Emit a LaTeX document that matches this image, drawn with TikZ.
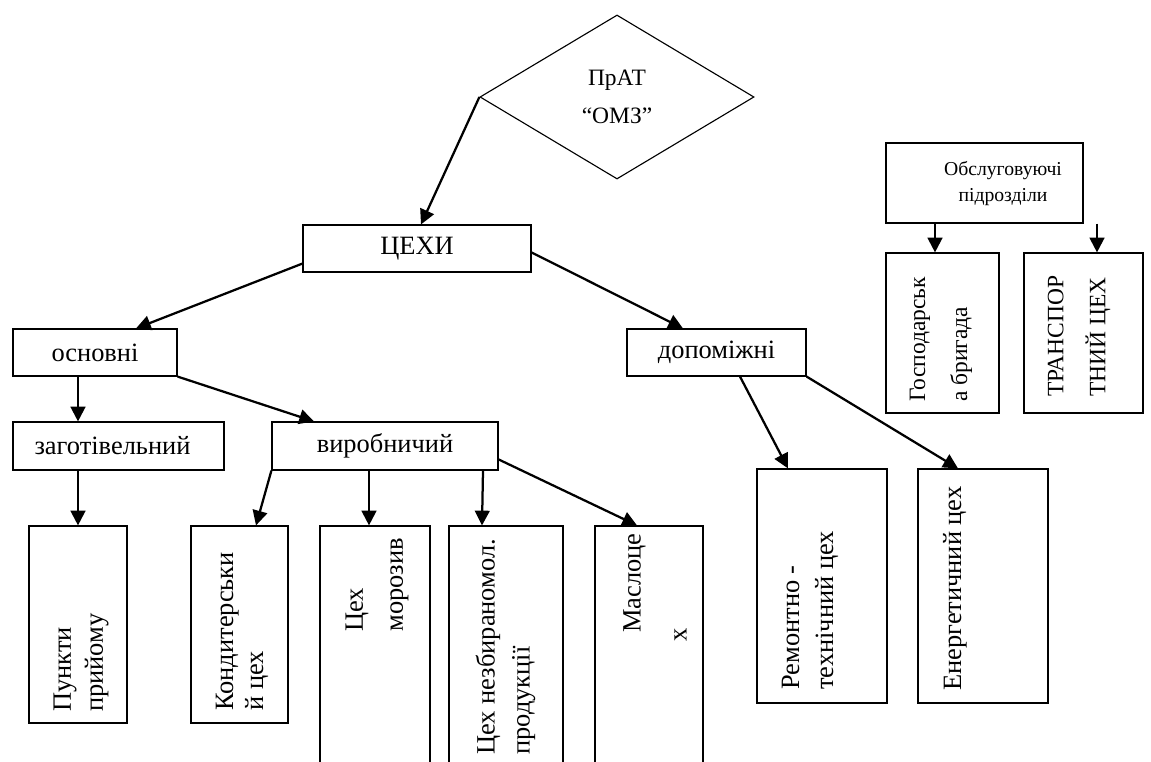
\documentclass[tikz,border=0pt]{standalone}
\usepackage{fontspec}
\setmainfont{Liberation Serif}
\usetikzlibrary{arrows.meta,calc,shapes.geometric}

\begin{document}
\begin{tikzpicture}[x=0.025cm, y=-0.025cm,
    box/.style={draw, line width=0.8pt, inner sep=0pt, font=\fontsize{18.8}{22}\selectfont},
    vlab/.style={rotate=90, anchor=west, align=left, inner sep=0pt},
    link/.style={line width=1.6pt, -{Triangle[length=10.5pt,width=10.5pt]}}]
    \useasboundingbox (0,0) rectangle (1151,762);
    \clip (0,0) rectangle (1151,762);

    % Company
    \node (prat) at (617,97) [draw, diamond, aspect=1.67, minimum width=6.85cm, minimum height=4.1cm, inner sep=0pt, line width=0.8pt, align=center, font=\fontsize{16.7}{27}\selectfont] {ПрАТ\\“ОМЗ”};

    % Level 1
    \node (tsekhy) at (417,248.5) [box, minimum width=5.7cm, minimum height=1.175cm] {ЦЕХИ};
    \draw[link] (prat.west) -- ($(tsekhy.north)+(4,0)$);

    % Level 2
    \node (osn) at (95,352.5) [box, minimum width=4.1cm, minimum height=1.175cm] {основні};
    \node (dop) at (716.5,352.5) [box, minimum width=4.475cm, minimum height=1.175cm] {допоміжні};
    \draw[link] ($(tsekhy.south west)+(0,-9)$) -- ($(osn.north)+(41,0)$);
    \draw[link] ($(tsekhy.north east)+(0,28)$) -- ($(dop.north)+(-33.5,0)$);

    % Level 3
    \node (zag) at (118.5,446) [box, minimum width=5.275cm, minimum height=1.2cm, text depth=0pt, label={[xshift=-0.15cm, font=\fontsize{18.8}{22}\selectfont]center:заготівельний}] {};
    \node (vyr) at (385,446) [box, minimum width=5.65cm, minimum height=1.2cm] {виробничий};
    \draw[link] ($(osn.south)+(-17,0)$) -- ($(zag.north)+(-40.5,0)$);
    \draw[link] (osn.south east) -- ($(vyr.north)+(-71,0)$);

    % Workshops (vertical boxes)
    \node (punkt) at (78,624.5) [box, minimum width=2.45cm, minimum height=4.925cm] {};
    \node (kond) at (239.5,624.5) [box, minimum width=2.425cm, minimum height=4.925cm] {};
    \node (moroz) at (375,663) [box, minimum width=2.75cm, minimum height=6.85cm] {};
    \node (nezb) at (506,663) [box, minimum width=2.85cm, minimum height=6.85cm] {};
    \node (maslo) at (649,663) [box, minimum width=2.7cm, minimum height=6.85cm] {};
    \node (remont) at (822,586) [box, minimum width=3.25cm, minimum height=5.85cm] {};
    \node (energ) at (983,586) [box, minimum width=3.25cm, minimum height=5.85cm] {};

    \node (punktT) at (81,712) [vlab, font=\fontsize{18.8}{22.8}\selectfont] {Пункти\\прийому};
    \node (kondT) at (242,711) [vlab, font=\fontsize{18.8}{21.3}\selectfont] {Кондитерськи\\й цех};
    \node (morozT) at (377,632) [vlab, font=\fontsize{18.8}{28.4}\selectfont] {Цех\\морозив};
    \node (nezbT) at (505.5,755) [vlab, font=\fontsize{18.8}{24.9}\selectfont] {Цех незбираномол.\\продукції};
    \node (masloT) at (655,642) [vlab, font=\fontsize{18.8}{32.7}\selectfont] {\hspace*{6.4pt}Маслоце\\х};
    \node (remontT) at (810,690) [vlab, font=\fontsize{18.8}{24.2}\selectfont] {Ремонтно -\\технічний цех};
    \node (energT) at (955,691) [vlab, font=\fontsize{18.8}{22}\selectfont] {Енергетичний цех};

    \draw[link] ($(zag.south)+(-40.5,0)$) -- (punkt.north);
    \draw[link] (vyr.south west) -- ($(kond.north)+(16.5,0)$);
    \draw[link] ($(vyr.south)+(-16,0)$) -- ($(moroz.north)+(-6,0)$);
    \draw[link] ($(vyr.south)+(98,0)$) -- ($(nezb.north)+(-24,0)$);
    \draw[link] ($(vyr.north east)+(0,38)$) -- ($(maslo.north)+(-12,0)$);
    \draw[link] ($(dop.south)+(23.5,0)$) -- ($(remont.north)+(-34,0)$);
    \draw[link] (dop.south east) -- ($(energ.north)+(-25,0)$);

    % Service units
    \node (obsl) at (984.5,183) [box, minimum width=4.925cm, minimum height=2cm] {};
    \node (obslT) at (1003,184) [align=center, inner sep=0pt, font=\fontsize{14}{18.5}\selectfont] {Обслуговуючі\\підрозділи};
    \node (gosp) at (942.5,333) [box, minimum width=2.825cm, minimum height=4cm] {};
    \node (transp) at (1083.5,333) [box, minimum width=2.975cm, minimum height=4cm] {};
    \node (gospT) at (941,402) [vlab, font=\fontsize{16.7}{29.9}\selectfont] {Господарськ\\а бригада};
    \node (transpT) at (1079,397) [vlab, font=\fontsize{16.7}{29.9}\selectfont] {ТРАНСПОР\\ТНИЙ ЦЕХ};
    \draw[link] ($(obsl.south)+(-49.5,0)$) -- ($(gosp.north)+(-7.5,0)$);
    \draw[link] ($(obsl.south)+(112.5,0)$) -- ($(transp.north)+(13.5,0)$);
\end{tikzpicture}
\end{document}
